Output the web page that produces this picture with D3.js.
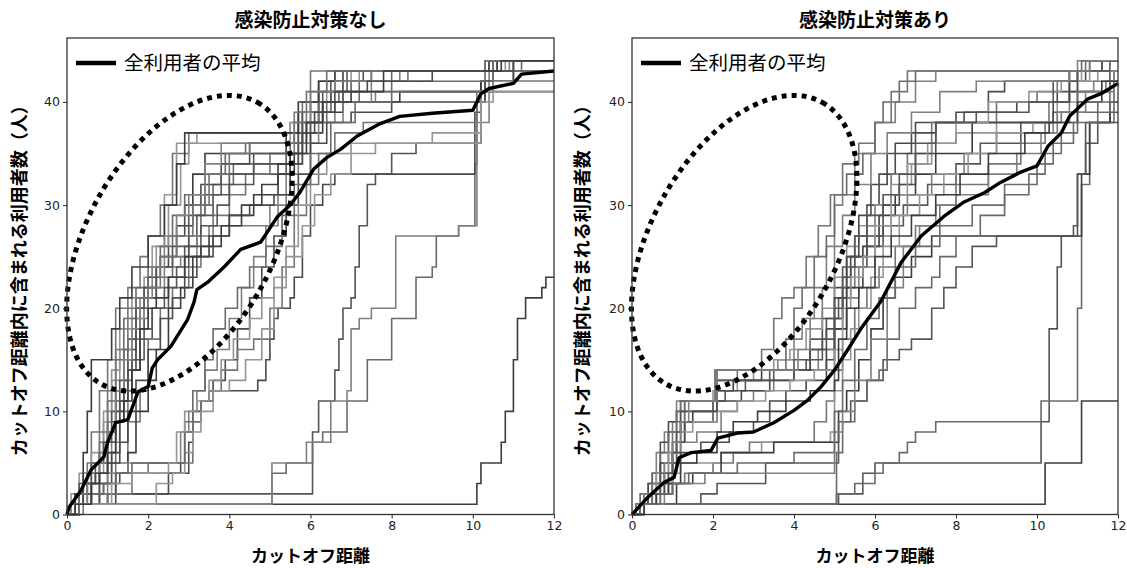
<!DOCTYPE html>
<html>
<head>
<meta charset="utf-8">
<script src="https://cdn.jsdelivr.net/npm/d3@7"></script>
<style>
  body { margin: 0; background: #fff; }
  svg { display: block; }
  .tick text { font-family: "DejaVu Sans", sans-serif; font-size: 12.5px; fill: #222; }
</style>
</head>
<body>
<script>
// sizes
const W = 1127, H = 568;
const jp = '"Noto Sans CJK JP", "Noto Sans", sans-serif';

// chart texts
const titles = ["感染防止対策なし", "感染防止対策あり"];
const xLabel = "カットオフ距離";
const yLabel = "カットオフ距離内に含まれる利用者数（人）";
const legendText = "全利用者の平均";
const xTicks = [0, 2, 4, 6, 8, 10, 12];
const yTicks = [0, 10, 20, 30, 40];

// left panel: each user is a list of [distance, count] steps
const usersNone = [
  [[0,0],[0.1,1],[10.0,1],[10.1,3],[10.2,5],[10.7,7],[10.8,10],[11.0,15],[11.1,19],[11.3,21],[11.7,22],[11.8,23]],
  [[0,0],[0.2,1],[1.0,2],[6.0,2],[6.05,8],[6.2,11],[6.6,14],[6.7,17],[6.8,20],[7.0,21],[7.1,24],[7.2,28],[7.4,32],[7.6,33],[8.0,35],[8.6,36],[10.1,36],[10.2,41]],
  [[0,0],[0.1,1],[5.0,1],[5.05,4],[5.3,4],[5.4,5],[5.9,5],[6.05,7],[6.3,8],[6.8,8],[6.9,11],[7.3,11],[7.4,15],[7.9,15],[8.0,19],[8.5,19],[8.6,23],[9.0,24],[9.1,27],[9.6,27],[9.65,28],[10.0,28],[10.05,34],[10.1,40],[10.3,43]],
  [[0,0],[0.1,1],[5.0,1],[5.05,5],[5.8,5],[5.9,7],[6.4,7],[6.5,11],[6.9,12],[7.0,18],[7.2,19],[7.5,20],[8.0,20],[8.1,27],[9.6,27],[9.65,28],[10.0,28],[10.1,38],[10.4,44]],
  [[0,0],[0.3,1],[1.2,2],[2.5,4],[2.8,5],[2.9,8],[3.1,9],[3.3,11],[3.5,12],[4.6,12],[4.7,13],[4.9,15],[5.0,17],[5.1,19],[5.2,20],[5.5,21],[5.6,23],[5.8,27],[6.0,30],[6.3,32],[6.6,33],[10.0,33],[10.05,39],[10.2,42],[11,43]],
  [[0,0],[0.2,2],[0.4,4],[0.6,8],[0.8,12],[1.0,15],[1.2,20],[1.5,22],[1.8,25],[2.0,27],[2.3,30],[2.6,35],[3.0,37],[5.4,37],[5.5,38],[5.8,40],[6.0,43],[10.3,43],[10.5,44]],
  [[0,0],[0.3,1],[0.5,4],[0.9,10],[1.1,14],[1.3,18],[1.6,21],[1.9,23],[2.1,26],[2.4,31],[2.7,36],[5.3,36],[5.5,38],[6.2,39],[6.5,41],[7.0,43],[10.4,43],[10.6,44]],
  [[0,0],[0.1,1],[0.6,3],[0.8,6],[1.0,9],[1.2,12],[1.4,16],[1.7,20],[2.0,23],[2.3,25],[2.7,28],[3.1,33],[3.4,35],[5.2,35],[5.4,37],[5.7,39],[6.3,40],[6.8,42],[7.5,43],[10.2,43],[10.4,44]],
  [[0,0],[0.2,1],[0.4,3],[0.7,5],[1.0,8],[1.2,11],[1.5,14],[1.8,17],[2.1,20],[2.5,23],[2.9,26],[3.2,29],[3.6,31],[4.0,33],[5.0,33],[5.4,35],[5.7,38],[6.2,41],[6.6,43],[10.5,43],[11.0,44]],
  [[0,0],[0.3,2],[0.6,5],[1.0,5],[1.2,9],[1.4,13],[1.6,17],[1.8,20],[2.0,21],[2.2,23],[2.6,25],[3.0,27],[3.3,30],[3.6,32],[4.1,34],[5.1,34],[5.5,36],[5.8,38],[6.4,40],[7.2,42],[8.0,43],[10.6,43],[11.2,44]],
  [[0,0],[0.2,1],[0.5,2],[0.8,4],[1.1,7],[1.3,10],[1.5,15],[1.7,19],[2.0,22],[2.4,24],[2.8,25],[3.2,27],[3.5,28],[4.5,28],[5.0,30],[5.4,33],[5.7,36],[6.0,38],[6.6,40],[7.6,41],[10.2,41],[10.3,43]],
  [[0,0],[0.1,1],[0.4,2],[0.9,3],[1.1,6],[1.3,11],[1.5,14],[1.7,18],[1.9,21],[2.2,24],[2.5,27],[2.9,30],[3.3,32],[3.8,34],[4.5,36],[5.6,36],[5.8,39],[6.2,42],[6.6,43],[10.2,43],[10.3,44]],
  [[0,0],[0.2,1],[0.5,1],[1.0,2],[1.2,5],[1.5,9],[1.8,12],[2.0,17],[2.3,20],[2.6,22],[3.0,24],[3.3,26],[3.6,29],[4.0,31],[4.4,33],[5.0,35],[5.6,37],[5.9,39],[6.5,41],[7.0,42],[8.4,43],[10.4,43],[10.6,44]],
  [[0,0],[0.1,2],[0.3,4],[0.6,6],[0.9,9],[1.1,13],[1.3,16],[1.6,19],[1.9,22],[2.2,26],[2.5,30],[2.8,34],[3.0,36],[3.2,37],[5.6,37],[5.7,39],[6.0,40],[6.4,42],[7.2,43],[10.2,43],[10.8,44]],
  [[0,0],[0.3,1],[0.8,2],[1.2,4],[1.5,6],[1.7,10],[2.0,13],[2.2,16],[2.5,20],[2.8,22],[3.1,25],[3.5,27],[4.0,29],[4.6,31],[5.2,33],[5.6,35],[6.0,37],[6.3,39],[6.8,40],[8.2,41],[10.0,41],[10.2,42]],
  [[0,0],[0.2,1],[0.6,3],[1.0,7],[1.2,10],[1.4,12],[1.6,15],[1.9,18],[2.1,20],[2.4,22],[2.7,24],[3.0,26],[3.3,28],[3.7,30],[4.0,32],[4.6,34],[5.4,34],[5.7,37],[6.0,40],[6.5,42],[7.3,43],[10.2,43],[10.4,44]],
  [[0,0],[0.2,2],[0.5,4],[0.8,7],[1.0,11],[1.2,15],[1.4,19],[1.7,22],[2.0,24],[2.3,26],[2.6,29],[2.9,31],[3.4,33],[3.9,35],[4.4,36],[5.5,36],[5.9,38],[6.2,40],[6.7,41],[10.3,41],[10.5,43],[11.0,44]],
  [[0,0],[0.2,1],[0.6,2],[1.0,4],[1.5,5],[2.6,5],[2.8,8],[3.0,10],[3.2,12],[3.4,14],[3.7,16],[4.0,19],[4.3,22],[4.6,25],[4.9,28],[5.2,31],[5.5,34],[5.8,36],[6.2,38],[6.8,40],[7.5,42],[8.2,43],[10.2,43],[10.5,44]],
  [[0,0],[0.3,1],[0.8,3],[1.3,4],[2.8,4],[3.0,7],[3.1,10],[3.3,11],[3.6,13],[3.9,15],[4.2,18],[4.5,21],[4.8,24],[5.1,27],[5.4,30],[5.7,33],[6.0,36],[6.4,38],[7.0,39],[8.0,40],[10.1,40],[10.3,42],[11.0,43]],
  [[0,0],[0.4,1],[1.0,2],[1.6,4],[2.0,5],[3.0,5],[3.1,9],[3.3,11],[3.5,12],[3.8,14],[4.2,16],[4.6,17],[5.0,20],[5.3,24],[5.6,29],[5.9,32],[6.2,35],[6.6,37],[7.3,38],[10.0,38],[10.1,41],[10.5,43]],
  [[0,0],[0.2,1],[2.0,1],[2.2,3],[2.6,4],[2.9,6],[3.1,8],[3.3,10],[3.6,12],[4.0,13],[4.4,15],[4.8,18],[5.1,22],[5.4,26],[5.7,30],[6.0,33],[6.4,35],[7.0,36],[10.1,36],[10.2,40],[10.5,42]],
  [[0,0],[0.2,2],[0.4,6],[0.5,10],[0.6,15],[1.0,15],[1.1,18],[1.3,21],[1.6,24],[2.0,27],[2.4,30],[2.7,34],[2.9,37],[5.5,37],[5.7,40],[6.2,42],[6.8,43],[10.3,43],[10.6,44]],
  [[0,0],[0.1,1],[0.3,3],[0.6,5],[0.9,7],[1.1,10],[1.3,13],[1.5,17],[1.7,20],[1.9,22],[2.2,24],[2.6,26],[3.0,29],[3.4,31],[3.8,33],[4.6,35],[5.6,35],[5.8,38],[6.3,41],[6.9,43],[10.3,43],[10.4,44]],
  [[0,0],[0.3,1],[0.6,2],[0.9,3],[1.2,4],[1.6,5],[2.7,5],[2.9,9],[3.1,12],[3.4,15],[3.6,18],[3.9,20],[4.2,22],[4.5,24],[4.9,26],[5.3,29],[5.6,32],[6.0,35],[6.5,38],[7.1,40],[8.0,42],[10.2,42],[10.5,44]],
  [[0,0],[0.2,1],[0.5,3],[0.8,5],[1.0,8],[1.2,12],[1.4,15],[1.6,18],[1.8,21],[2.1,24],[2.4,27],[2.7,29],[3.0,31],[3.4,34],[3.8,36],[5.4,36],[5.6,38],[6.0,41],[6.6,42],[7.5,43],[10.5,43],[10.9,44]],
  [[0,0],[0.1,1],[0.4,3],[0.7,4],[1.0,5],[1.3,7],[1.5,10],[1.7,13],[2.0,16],[2.3,19],[2.6,21],[2.9,23],[3.2,25],[3.6,27],[4.0,29],[4.5,30],[5.1,31],[5.5,34],[5.8,37],[6.1,39],[6.6,41],[7.4,42],[9.0,43],[10.6,43],[11.0,44]],
  [[0,0],[0.3,2],[0.5,5],[0.8,8],[1.0,12],[1.2,16],[1.5,20],[1.7,21],[2.0,22],[2.3,25],[2.7,27],[3.1,30],[3.5,33],[4.0,35],[4.5,36],[5.3,36],[5.6,39],[5.9,41],[6.4,43],[10.2,43],[10.3,44]],
  [[0,0],[0.1,1],[1.0,1],[1.1,3],[1.6,4],[2.5,5],[2.7,8],[2.9,10],[3.2,11],[3.5,13],[3.8,15],[4.1,17],[4.5,19],[4.8,21],[5.1,23],[5.4,25],[5.8,28],[6.1,31],[6.5,33],[7.0,35],[7.6,36],[9.0,37],[10.1,37],[10.2,41]],
  [[0,0],[0.2,1],[0.6,3],[0.8,4],[1.0,6],[1.2,9],[1.4,11],[1.6,14],[1.8,18],[2.0,20],[2.2,21],[2.5,23],[2.9,25],[3.3,26],[3.8,28],[4.3,30],[4.8,32],[5.2,34],[5.5,35],[5.9,38],[6.3,40],[7.0,41],[7.8,43],[10.4,43],[10.7,44]]
];

// right panel users
const usersWith = [
  [[0,0],[0.2,1],[10.0,1],[10.2,5],[11.0,5],[11.1,11]],
  [[0,0],[0.2,1],[5.0,1],[5.1,2],[5.6,2],[5.7,4],[6.0,5],[10.0,5],[10.1,9],[10.3,18],[10.5,24],[10.6,27],[10.9,28],[11.0,33],[11.2,36],[11.5,38],[11.8,39]],
  [[0,0],[0.1,1],[5.0,1],[5.05,2],[5.5,3],[6.0,4],[6.2,5],[6.6,6],[6.8,7],[7.0,8],[7.5,9],[10.0,9],[10.1,11],[10.9,11],[11.0,20],[11.1,32],[11.3,38],[11.8,38],[11.9,43]],
  [[0,0],[0.2,1],[0.4,3],[0.6,6],[0.8,8],[1.0,9],[1.1,11],[2.0,11],[2.05,14],[3.5,14],[3.6,15],[4.0,17],[4.2,19],[4.5,22],[4.8,26],[5.0,30],[5.2,31],[5.5,35],[6.0,38],[6.5,40],[7.0,42],[7.5,43],[10.5,43],[11.0,44]],
  [[0,0],[0.1,1],[0.3,2],[0.5,4],[0.7,7],[0.9,9],[1.1,10],[1.2,11],[2.0,11],[2.1,14],[4.2,14],[4.4,16],[4.7,19],[5.0,22],[5.3,25],[5.5,27],[5.8,30],[6.1,33],[6.5,36],[7.0,38],[8.0,39],[8.8,41],[9.2,42],[10.8,42],[11.2,43],[11.6,44]],
  [[0,0],[0.2,1],[0.4,2],[0.7,5],[0.9,8],[1.1,10],[1.3,11],[2.0,11],[2.1,13],[2.6,14],[4.8,14],[5.0,18],[5.2,22],[5.5,25],[5.8,28],[6.0,30],[6.4,33],[6.8,35],[7.4,38],[8.6,38],[9.0,40],[10.0,41],[10.5,42],[11.0,43]],
  [[0,0],[0.3,1],[0.6,3],[0.9,6],[1.1,8],[1.3,10],[1.6,10],[2.0,12],[2.6,13],[3.0,14],[3.5,15],[3.9,16],[4.3,18],[4.7,20],[5.0,23],[5.3,26],[5.6,28],[6.0,30],[6.4,32],[6.9,34],[7.4,36],[8.0,37],[9.0,38],[10.5,40],[11.0,42],[11.5,43]],
  [[0,0],[0.1,1],[0.5,2],[0.8,4],[1.0,6],[1.2,9],[1.5,10],[2.0,10],[2.1,12],[2.5,13],[3.2,14],[4.5,14],[4.8,16],[5.0,18],[5.3,22],[5.7,26],[6.1,29],[6.5,31],[7.0,33],[7.5,35],[8.4,38],[9.5,38],[10.3,40],[10.8,43],[11.3,44]],
  [[0,0],[0.2,1],[0.6,2],[0.9,4],[1.1,7],[1.3,9],[1.8,9],[2.0,11],[2.3,12],[2.8,13],[3.4,14],[4.0,15],[4.4,17],[4.8,19],[5.1,21],[5.4,24],[5.8,26],[6.2,28],[6.7,30],[7.3,32],[8.0,34],[8.6,36],[9.6,38],[10.4,39],[11.0,41],[11.8,43]],
  [[0,0],[0.2,2],[0.5,4],[0.7,6],[0.9,8],[1.1,9],[1.3,11],[2.0,11],[2.1,14],[3.6,14],[3.8,17],[4.0,20],[4.2,22],[4.5,25],[4.8,27],[5.0,31],[5.3,33],[5.7,35],[6.0,38],[6.2,40],[6.6,42],[7.0,43],[10.7,43],[11.1,44]],
  [[0,0],[0.3,1],[0.7,3],[1.0,5],[1.2,7],[1.6,8],[2.0,8],[2.2,10],[2.6,11],[3.0,12],[3.5,13],[4.0,14],[4.6,16],[5.0,19],[5.2,21],[5.6,24],[6.0,27],[6.4,29],[6.8,31],[7.4,33],[8.2,35],[9.0,37],[10.4,38],[10.8,41],[11.4,42]],
  [[0,0],[0.1,1],[0.4,2],[0.8,3],[1.0,5],[1.2,6],[1.7,7],[2.4,8],[3.0,9],[3.4,11],[3.8,12],[4.3,13],[4.8,15],[5.0,19],[5.2,23],[5.4,25],[5.8,27],[6.2,30],[6.6,32],[7.0,35],[7.5,38],[8.2,39],[9.5,40],[10.5,41],[11.0,43],[11.6,44]],
  [[0,0],[0.2,1],[0.5,2],[1.0,3],[1.3,4],[2.0,5],[2.5,6],[2.9,7],[4.2,7],[4.5,9],[4.8,11],[5.0,14],[5.2,17],[5.5,20],[5.8,22],[6.1,24],[6.5,26],[7.0,28],[7.6,30],[8.0,32],[8.8,34],[9.6,36],[10.2,38],[10.6,39],[11.0,41],[11.7,42]],
  [[0,0],[0.3,1],[0.6,2],[1.0,4],[1.2,5],[2.0,5],[2.2,6],[2.7,6],[3.2,7],[4.5,7],[4.9,8],[5.0,12],[5.2,15],[5.4,18],[5.6,20],[5.9,23],[6.2,26],[6.6,29],[7.1,31],[7.7,33],[8.3,35],[9.0,37],[9.9,38],[10.3,40],[10.8,42],[11.3,43]],
  [[0,0],[0.2,1],[1.0,1],[1.1,3],[1.5,4],[2.0,4],[2.2,6],[3.0,6],[3.5,7],[5.0,7],[5.1,10],[5.3,12],[5.6,15],[5.9,18],[6.2,21],[6.5,23],[6.9,25],[7.4,27],[11.0,27],[11.1,33],[11.3,38],[11.8,40]],
  [[0,0],[0.1,1],[1.6,1],[1.7,2],[2.0,2],[2.1,3],[3.0,3],[3.3,5],[5.0,5],[5.1,9],[5.4,11],[5.8,13],[6.2,15],[6.6,16],[6.9,17],[7.4,20],[7.7,22],[8.0,24],[8.4,26],[9.0,27],[10.9,27],[11.0,33],[11.2,38]],
  [[0,0],[0.2,1],[5.0,1],[5.05,6],[5.2,9],[5.5,11],[5.8,13],[6.1,14],[6.3,17],[6.6,20],[7.0,22],[7.4,23],[7.6,25],[8.0,27],[8.6,29],[9.2,31],[9.8,33],[10.2,35],[10.6,37],[11.0,39],[11.8,42]],
  [[0,0],[0.3,1],[0.8,2],[1.0,3],[1.6,3],[1.8,4],[4.9,4],[5.0,8],[5.2,10],[5.5,13],[5.9,17],[6.3,22],[6.7,26],[7.1,28],[7.5,30],[8.0,31],[8.8,33],[9.5,35],[10.1,37],[10.5,39],[11.2,41],[11.9,43]],
  [[0,0],[0.1,1],[0.4,3],[0.7,5],[1.0,7],[1.3,9],[2.0,9],[2.1,11],[2.7,12],[3.4,13],[4.0,14],[4.4,16],[4.8,18],[5.0,21],[5.3,25],[5.6,29],[5.9,32],[6.3,35],[6.9,37],[7.5,38],[10.0,38],[10.4,40],[10.8,43]],
  [[0,0],[0.2,1],[0.5,3],[0.8,5],[1.0,8],[1.2,11],[2.0,11],[2.05,14],[3.0,14],[3.2,16],[3.5,19],[3.7,21],[4.0,22],[4.3,25],[4.6,28],[4.9,31],[5.2,34],[5.6,36],[6.0,38],[6.4,41],[6.8,43],[10.6,43],[11.2,44]],
  [[0,0],[0.1,1],[0.3,2],[0.6,4],[0.9,6],[1.1,8],[1.5,9],[2.0,9],[2.1,10],[2.6,11],[3.3,12],[3.9,13],[4.5,14],[5.0,16],[5.2,20],[5.4,23],[5.7,25],[6.0,28],[6.4,31],[6.8,34],[7.3,36],[8.0,38],[8.8,40],[9.8,41],[10.6,42],[11.1,43]],
  [[0,0],[0.3,1],[0.6,2],[0.9,3],[1.2,5],[1.6,6],[2.0,6],[2.1,8],[2.5,9],[3.1,10],[3.8,11],[4.4,12],[5.0,13],[5.1,17],[5.3,20],[5.6,22],[6.0,25],[6.4,27],[6.9,29],[7.5,31],[8.1,33],[8.8,35],[9.7,37],[10.3,38],[11.0,40],[11.6,42]],
  [[0,0],[0.1,1],[0.4,2],[0.7,4],[1.0,6],[1.1,8],[1.2,10],[2.0,10],[2.1,13],[3.0,13],[3.5,14],[4.3,15],[4.7,17],[5.0,20],[5.2,24],[5.5,27],[5.8,29],[6.2,31],[6.6,33],[7.0,36],[7.5,38],[8.5,39],[9.8,40],[10.4,42],[11.0,43],[11.8,44]],
  [[0,0],[0.2,1],[0.7,2],[1.0,3],[1.4,4],[2.2,4],[2.6,5],[3.6,5],[4.0,6],[4.9,6],[5.0,10],[5.2,13],[5.5,16],[5.8,19],[6.1,21],[6.5,24],[7.0,26],[7.6,28],[8.4,30],[9.2,32],[10.0,34],[10.4,36],[10.9,38],[11.5,40]],
  [[0,0],[0.1,1],[0.3,2],[0.5,3],[0.8,5],[1.0,7],[1.2,9],[1.4,11],[2.0,11],[2.1,14],[3.9,14],[4.1,16],[4.4,19],[4.7,22],[5.0,26],[5.2,29],[5.5,32],[5.9,35],[6.3,37],[6.9,39],[7.6,41],[8.5,42],[10.2,42],[10.8,43],[11.3,44]]
];

// averages over all users
const meanNone = [[0,0],[0.05,0.7],[0.34,2.3],[0.59,4.3],[0.91,5.6],[1.0,7.0],[1.2,8.9],[1.5,9.2],[1.75,11.9],[2.0,12.4],[2.1,14.2],[2.23,15],[2.56,16.3],[2.97,18.9],[3.13,20.6],[3.2,21.8],[3.46,22.5],[3.87,24],[4.28,25.7],[4.77,26.4],[5.19,28.9],[5.5,30],[5.75,31.3],[6.08,33.5],[6.4,34.6],[6.74,35.4],[7.15,36.7],[7.72,37.9],[8.2,38.6],[9.0,38.9],[10.0,39.2],[10.2,40.8],[10.4,41.3],[11.0,41.8],[11.2,42.7],[12,43]];
const meanWith = [[0,0],[0.4,1.7],[0.79,3.1],[1.04,3.6],[1.16,5.5],[1.46,6.0],[1.95,6.2],[2.12,7.4],[2.6,7.9],[3.0,8.0],[3.5,8.9],[4.0,10.1],[4.34,11.1],[4.67,12.4],[5.0,14],[5.33,16],[5.65,18],[6.15,20.7],[6.64,24.4],[7.14,27],[7.7,28.9],[8.2,30.3],[8.7,31.2],[9.1,32.2],[9.6,33.2],[10.0,33.8],[10.27,35.7],[10.6,37],[10.8,38.6],[11.26,40.3],[11.58,40.8],[12,41.8]];

// dotted ellipse annotation centre (data units)
const ellipseCentre = [2.77, 26.3];

const grays = ["#3c3c3c", "#555", "#6a6a6a", "#808080", "#4a4a4a", "#747474", "#959595"];

const svg = d3.select("body").append("svg")
  .attr("width", W).attr("height", H);

const panels = [
  { left: 67, right: 554, users: usersNone, mean: meanNone, title: titles[0], ylab: 20 },
  { left: 632, right: 1118, users: usersWith, mean: meanWith, title: titles[1], ylab: 583 }
];
const plotTop = 38, plotBottom = 514.5;

panels.forEach(function(p) {
  const x = d3.scaleLinear().domain([0, 12]).range([p.left, p.right]);
  const y = d3.scaleLinear().domain([0, 46.2]).range([plotBottom, plotTop]);
  const g = svg.append("g");

  const stepLine = d3.line()
    .x(d => x(d[0])).y(d => y(d[1]))
    .curve(d3.curveStepAfter);

  g.selectAll("path.user")
    .data(p.users)
    .enter().append("path")
    .attr("class", "user")
    .attr("d", d => stepLine(d.concat([[12, d[d.length - 1][1]]])))
    .attr("fill", "none")
    .attr("stroke", (d, i) => grays[i % grays.length])
    .attr("stroke-width", 1.6);

  g.append("path")
    .attr("d", d3.line().x(d => x(d[0])).y(d => y(d[1]))(p.mean))
    .attr("fill", "none")
    .attr("stroke", "#000")
    .attr("stroke-width", 3.4)
    .attr("stroke-linejoin", "round");

  // dotted ellipse
  g.append("ellipse")
    .attr("cx", 0).attr("cy", 0)
    .attr("rx", 161).attr("ry", 93)
    .attr("transform", `translate(${x(ellipseCentre[0])},${y(ellipseCentre[1])}) rotate(-61)`)
    .attr("fill", "none")
    .attr("stroke", "#000")
    .attr("stroke-width", 5)
    .attr("stroke-dasharray", "5,5");

  // axes
  g.append("g")
    .attr("transform", `translate(0,${plotBottom})`)
    .call(d3.axisBottom(x).tickValues(xTicks).tickSize(4).tickPadding(3))
    .call(a => a.select(".domain").remove());
  g.append("g")
    .attr("transform", `translate(${p.left},0)`)
    .call(d3.axisLeft(y).tickValues(yTicks).tickSize(4).tickPadding(3))
    .call(a => a.select(".domain").remove());
  g.selectAll(".tick line").attr("stroke", "#333").attr("stroke-width", 1.1);

  g.append("rect")
    .attr("x", p.left).attr("y", plotTop)
    .attr("width", p.right - p.left).attr("height", plotBottom - plotTop)
    .attr("fill", "none").attr("stroke", "#333").attr("stroke-width", 1.3);

  // legend
  g.append("line")
    .attr("x1", p.left + 9).attr("x2", p.left + 49)
    .attr("y1", 63).attr("y2", 63)
    .attr("stroke", "#000").attr("stroke-width", 4.5);
  g.append("text")
    .attr("x", p.left + 57).attr("y", 70)
    .attr("font-family", jp).attr("font-size", 19.5)
    .text(legendText);

  // titles and labels
  const cx = (p.left + p.right) / 2;
  svg.append("text")
    .attr("x", cx).attr("y", 27)
    .attr("text-anchor", "middle")
    .attr("font-family", jp).attr("font-size", 19).attr("font-weight", "bold")
    .text(p.title);
  svg.append("text")
    .attr("x", cx).attr("y", 562)
    .attr("text-anchor", "middle")
    .attr("font-family", jp).attr("font-size", 17).attr("font-weight", "bold")
    .text(xLabel);
  svg.append("text")
    .attr("transform", `translate(${p.ylab + 6},${(plotTop + plotBottom) / 2}) rotate(-90)`)
    .attr("text-anchor", "middle")
    .attr("font-family", jp).attr("font-size", 18).attr("font-weight", "bold")
    .text(yLabel);
});
</script>
</body>
</html>
